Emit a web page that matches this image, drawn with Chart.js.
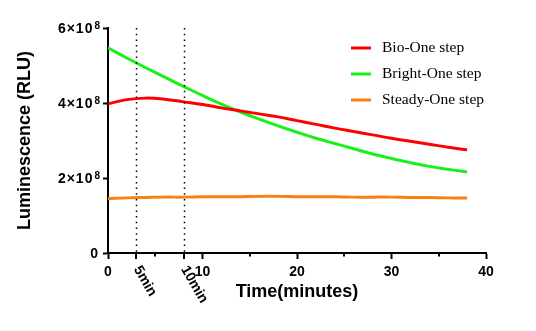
<!DOCTYPE html>
<html>
<head>
<meta charset="utf-8">
<script src="https://cdn.jsdelivr.net/npm/chart.js@4/dist/chart.umd.min.js"></script>
<style>
  html, body { margin: 0; padding: 0; background: #fff; }
  #wrap { width: 536px; height: 331px; }
</style>
</head>
<body>
<div id="wrap"><canvas id="c" width="536" height="331"></canvas></div>
<script>
// Time points (minutes)
const times = [0, 2, 4, 6, 8, 10, 12, 14, 16, 18, 20, 22, 24, 26, 28, 30, 32, 34, 36, 38];

// Luminescence readings (RLU)
const bioOne = [3.98e8, 4.09e8, 4.13e8, 4.10e8, 4.03e8, 3.96e8, 3.87e8, 3.79e8, 3.71e8, 3.63e8,
                3.53e8, 3.43e8, 3.33e8, 3.24e8, 3.15e8, 3.06e8, 2.98e8, 2.90e8, 2.82e8, 2.75e8];
const brightOne = [5.47e8, 5.20e8, 4.94e8, 4.69e8, 4.44e8, 4.20e8, 3.97e8, 3.76e8, 3.57e8, 3.39e8,
                   3.22e8, 3.06e8, 2.92e8, 2.78e8, 2.64e8, 2.52e8, 2.41e8, 2.31e8, 2.23e8, 2.16e8];
const steadyOne = [1.45e8, 1.47e8, 1.48e8, 1.49e8, 1.49e8, 1.50e8, 1.50e8, 1.50e8, 1.51e8, 1.51e8,
                   1.50e8, 1.50e8, 1.50e8, 1.49e8, 1.49e8, 1.49e8, 1.48e8, 1.48e8, 1.47e8, 1.47e8];

const seriesNames = ['Bio-One step', 'Bright-One step', 'Steady-One step'];

// Y tick labels: mantissa and power of ten for each tick value
const yTickValues = [0, 2e8, 4e8, 6e8];
const yTickMantissa = ['0', '2×10', '4×10', '6×10'];
const yTickExponent = ['', '8', '8', '8'];

// Reading markers on the time axis
const markerTimes = [3, 8];
const markerLabels = ['5min', '10min'];

// Minor ticks on the time axis
const minorTicks = [5, 15, 25, 35];

const FONT = '"Liberation Sans", Arial, sans-serif';
const toPoints = (arr) => times.map((t, i) => ({ x: t, y: arr[i] }));

const annotationsPlugin = {
  id: 'annotations',
  afterDatasetsDraw(chart) {
    const { ctx, chartArea, scales } = chart;
    const x = scales.x;
    ctx.save();
    // dotted vertical lines
    ctx.strokeStyle = '#000';
    ctx.lineWidth = 1.5;
    ctx.setLineDash([1.5, 4.2]);
    markerTimes.forEach((t) => {
      const px = Math.round(x.getPixelForValue(t)) + 0.5;
      ctx.beginPath();
      ctx.moveTo(px, chartArea.top);
      ctx.lineTo(px, chartArea.bottom);
      ctx.stroke();
    });
    ctx.setLineDash([]);
    // ticks under markers and minor ticks
    ctx.lineWidth = 2;
    markerTimes.forEach((t) => {
      const px = Math.round(x.getPixelForValue(t));
      ctx.beginPath();
      ctx.moveTo(px, chartArea.bottom);
      ctx.lineTo(px, chartArea.bottom + 6);
      ctx.stroke();
    });
    minorTicks.forEach((t) => {
      const px = Math.round(x.getPixelForValue(t));
      ctx.beginPath();
      ctx.moveTo(px, chartArea.bottom);
      ctx.lineTo(px, chartArea.bottom + 3.5);
      ctx.stroke();
    });
    // rotated marker labels
    ctx.fillStyle = '#000';
    ctx.font = 'bold 14px ' + FONT;
    ctx.textAlign = 'left';
    ctx.textBaseline = 'middle';
    markerTimes.forEach((t, i) => {
      const px = x.getPixelForValue(t);
      ctx.save();
      ctx.translate(px + 0.5, chartArea.bottom + 14);
      ctx.rotate(Math.PI / 3);
      ctx.fillText(markerLabels[i], 0, 0);
      ctx.restore();
    });
    ctx.restore();
  },
  afterDraw(chart) {
    const { ctx, scales } = chart;
    ctx.save();
    // y tick labels with raised exponent
    const right = scales.y.right - 8;
    ctx.fillStyle = '#000';
    ctx.textAlign = 'right';
    ctx.textBaseline = 'alphabetic';
    yTickValues.forEach((v, i) => {
      const py = scales.y.getPixelForValue(v);
      let xr = right;
      if (yTickExponent[i]) {
        ctx.letterSpacing = '0px';
        ctx.font = 'bold 10px ' + FONT;
        ctx.fillText(yTickExponent[i], xr, py + 1.3);
        xr -= ctx.measureText(yTickExponent[i]).width + 1;
        ctx.letterSpacing = '1px';
      } else {
        xr -= 2;
        ctx.letterSpacing = '0px';
      }
      ctx.font = 'bold 14px ' + FONT;
      ctx.fillText(yTickMantissa[i], xr, py + 5);
    });
    ctx.letterSpacing = '0px';
    // legend in the upper right of the plot
    ctx.font = '15.5px "Liberation Serif", "Times New Roman", serif';
    ctx.textAlign = 'left';
    ctx.textBaseline = 'middle';
    chart.data.datasets.forEach((ds, i) => {
      const y = 48 + i * 26;
      ctx.strokeStyle = ds.borderColor;
      ctx.lineWidth = 3;
      ctx.beginPath();
      ctx.moveTo(351, y);
      ctx.lineTo(371, y);
      ctx.stroke();
      ctx.fillStyle = '#000';
      ctx.fillText(ds.label, 382, y);
    });
    ctx.restore();
  }
};

new Chart(document.getElementById('c'), {
  type: 'line',
  data: {
    datasets: [
      { label: seriesNames[0], data: toPoints(bioOne), borderColor: '#ff0000' },
      { label: seriesNames[1], data: toPoints(brightOne), borderColor: '#19f019' },
      { label: seriesNames[2], data: toPoints(steadyOne), borderColor: '#fb8012' }
    ].map(d => Object.assign(d, {
      borderWidth: 3, pointRadius: 0, tension: 0.4, fill: false
    }))
  },
  options: {
    responsive: false,
    animation: false,
    layout: { padding: { left: 0, right: 50, top: 28, bottom: 0 } },
    plugins: { legend: { display: false }, tooltip: { enabled: false } },
    scales: {
      x: {
        type: 'linear',
        min: 0, max: 40,
        afterFit(scale) { scale.height = 78; },
        ticks: {
          stepSize: 10,
          color: '#000',
          padding: 5,
          maxRotation: 0,
          font: { family: FONT, size: 14, weight: 'bold' }
        },
        grid: { display: true, drawOnChartArea: false, drawTicks: true, tickLength: 6, tickColor: '#000', tickWidth: 2 },
        border: { display: true, color: '#000', width: 2 },
        title: {
          display: true,
          text: 'Time(minutes)',
          color: '#000',
          font: { family: FONT, size: 18, weight: 'bold' },
          padding: { top: 0, bottom: 28 }
        }
      },
      y: {
        min: 0, max: 6e8,
        afterFit(scale) { scale.width = 108; },
        afterBuildTicks(scale) { scale.ticks = yTickValues.map(v => ({ value: v })); },
        ticks: {
          color: '#000',
          padding: 3,
          callback: () => '',
          font: { family: FONT, size: 14, weight: 'bold' }
        },
        grid: { display: true, drawOnChartArea: false, drawTicks: true, tickLength: 5, tickColor: '#000', tickWidth: 2 },
        border: { display: true, color: '#000', width: 2 },
        title: {
          display: true,
          text: 'Luminescence (RLU)',
          color: '#000',
          font: { family: FONT, size: 18, weight: 'bold' },
          padding: { top: 14, bottom: 0 }
        }
      }
    }
  },
  plugins: [annotationsPlugin]
});
</script>
</body>
</html>
